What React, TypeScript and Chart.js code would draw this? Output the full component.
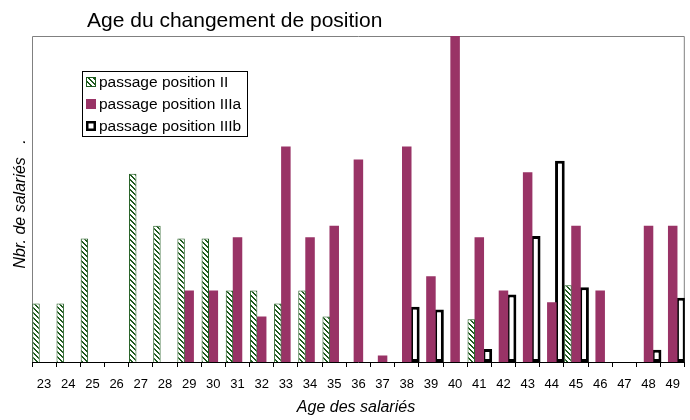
import React, { useEffect, useRef } from 'react';
import { Chart, registerables } from 'chart.js';

Chart.register(...registerables);

// ---- data ----
const ages = ['23','24','25','26','27','28','29','30','31','32','33','34','35','36','37','38','39','40','41','42','43','44','45','46','47','48','49'];
const positionII = [4.5, 4.5, 9.5, null, 14.5, 10.5, 9.5, 9.5, 5.5, 5.5, 4.5, 5.5, 3.5, null, null, null, null, null, 3.3, null, null, null, 5.9, null, null, null, null];
const positionIIIa = [null, null, null, null, null, null, 5.5, 5.5, 9.6, 3.5, 16.6, 9.6, 10.5, 15.6, 0.5, 16.6, 6.6, 25.1, 9.6, 5.5, 14.6, 4.6, 10.5, 5.5, null, 10.5, 10.5];
const positionIIIb = [null, null, null, null, null, null, null, null, null, null, null, null, null, null, null, 4.25, 4.05, null, 1.0, 5.2, 9.7, 15.5, 5.75, null, null, 0.95, 4.95];
const seriesLabels = ['passage position II', 'passage position IIIa', 'passage position IIIb'];
const yMax = 25.1;

const TITLE = 'Age du changement de position';
const Y_TITLE = 'Nbr. de salariés   .';
const X_TITLE = 'Age des salariés';

const FONT = '"Liberation Sans", Arial, Helvetica, sans-serif';
const GREEN = '#1d5a1d';
const MAGENTA = '#993366';

function makeHatch(): CanvasPattern | string {
  const s = 5;
  const c = document.createElement('canvas');
  c.width = s;
  c.height = s;
  const g = c.getContext('2d');
  if (!g) return GREEN;
  const img = g.createImageData(s, s);
  for (let y = 0; y < s; y++) {
    for (let x = 0; x < s; x++) {
      const i = (y * s + x) * 4;
      const on = (((x - y) % s) + s) % s < 2;
      if (on) {
        img.data[i] = 0x1d; img.data[i + 1] = 0x5a; img.data[i + 2] = 0x1d;
      } else {
        img.data[i] = 255; img.data[i + 1] = 255; img.data[i + 2] = 255;
      }
      img.data[i + 3] = 255;
    }
  }
  g.putImageData(img, 0, 0);
  const p = g.createPattern(c, 'repeat');
  return p || GREEN;
}

export default function App() {
  const ref = useRef<HTMLCanvasElement | null>(null);

  useEffect(() => {
    const canvas = ref.current;
    if (!canvas) return;
    const hatch = makeHatch();

    const decor = {
      id: 'decor',
      beforeDatasetsDraw(chart: any) {
        const ctx = chart.ctx;
        const ca = chart.chartArea;
        ctx.save();
        ctx.strokeStyle = '#808080';
        ctx.lineWidth = 1;
        ctx.beginPath();
        ctx.moveTo(ca.left + 0.5, ca.bottom);
        ctx.lineTo(ca.left + 0.5, ca.top + 0.5);
        ctx.lineTo(ca.right - 0.5, ca.top + 0.5);
        ctx.lineTo(ca.right - 0.5, ca.bottom);
        ctx.stroke();
        ctx.restore();
      },
      afterDraw(chart: any) {
        const ctx = chart.ctx;
        ctx.save();
        // title
        ctx.fillStyle = '#000';
        ctx.font = `21px ${FONT}`;
        ctx.textAlign = 'left';
        ctx.textBaseline = 'alphabetic';
        ctx.fillText(TITLE, 87, 27);

        // x title
        ctx.font = `italic 16px ${FONT}`;
        ctx.textAlign = 'center';
        ctx.textBaseline = 'middle';
        ctx.fillText(X_TITLE, 356, 408);

        // y title
        ctx.save();
        ctx.translate(21, 204);
        ctx.rotate(-Math.PI / 2);
        ctx.fillText(Y_TITLE, 0, 0);
        ctx.restore();

        // legend
        const lx = 82.5, ly = 71.5, lw = 165, lh = 65;
        ctx.fillStyle = '#fff';
        ctx.fillRect(lx, ly, lw, lh);
        ctx.strokeStyle = '#000';
        ctx.lineWidth = 1;
        ctx.strokeRect(lx, ly, lw, lh);
        const rows = [82, 104, 126];
        ctx.font = `15.5px ${FONT}`;
        ctx.textAlign = 'left';
        ctx.textBaseline = 'middle';
        rows.forEach((cy, i) => {
          const mx = 86, my = cy - 5, ms = 10;
          if (i === 0) {
            ctx.fillStyle = hatch;
            ctx.fillRect(mx, my, ms, ms);
            ctx.strokeStyle = GREEN;
            ctx.lineWidth = 1;
            ctx.strokeRect(mx + 0.5, my + 0.5, ms - 1, ms - 1);
          } else if (i === 1) {
            ctx.fillStyle = MAGENTA;
            ctx.fillRect(mx, my, ms, ms);
          } else {
            ctx.fillStyle = '#fff';
            ctx.fillRect(mx, my, ms, ms);
            ctx.strokeStyle = '#000';
            ctx.lineWidth = 2.5;
            ctx.strokeRect(mx + 1.25, my + 1.25, ms - 2.5, ms - 2.5);
          }
          ctx.fillStyle = '#000';
          ctx.fillText(seriesLabels[i], 99, cy + 1);
        });
        ctx.restore();
      },
    };

    const chart = new Chart(canvas, {
      type: 'bar',
      data: {
        labels: ages,
        datasets: [
          {
            label: seriesLabels[0],
            data: positionII,
            backgroundColor: hatch as any,
            borderColor: GREEN,
            borderWidth: 1,
            borderSkipped: 'bottom',
            barPercentage: 0.92,
          },
          {
            label: seriesLabels[1],
            data: positionIIIa,
            backgroundColor: MAGENTA,
            borderWidth: 0,
            barPercentage: 1.18,
          },
          {
            label: seriesLabels[2],
            data: positionIIIb,
            backgroundColor: '#ffffff',
            borderColor: '#000000',
            borderWidth: 3,
            borderSkipped: false,
            barPercentage: 1.2,
          },
        ],
      },
      options: {
        responsive: false,
        animation: false,
        devicePixelRatio: 1,
        datasets: { bar: { categoryPercentage: 1 } },
        layout: { padding: { left: 32, right: 3, top: 36, bottom: 0 } },
        plugins: {
          legend: { display: false },
          title: { display: false },
          tooltip: { enabled: false },
        },
        scales: {
          x: {
            offset: true,
            grid: {
              display: true,
              offset: true,
              drawOnChartArea: false,
              drawTicks: true,
              tickLength: 5,
              color: '#000',
            },
            border: { display: true, color: '#000', width: 1 },
            ticks: {
              color: '#000',
              font: { family: FONT, size: 13 },
              padding: 10,
              maxRotation: 0,
              autoSkip: false,
            },
            afterFit(scale: any) {
              scale.height = 58;
            },
          },
          y: {
            display: false,
            min: 0,
            max: yMax,
          },
        },
      },
      plugins: [decor],
    } as any);

    return () => chart.destroy();
  }, []);

  return (
    <div style={{ position: 'absolute', left: 0, top: 0, width: 690, height: 420, background: '#fff' }}>
      <canvas ref={ref} width={690} height={420} style={{ display: 'block', width: 690, height: 420 }} />
    </div>
  );
}
